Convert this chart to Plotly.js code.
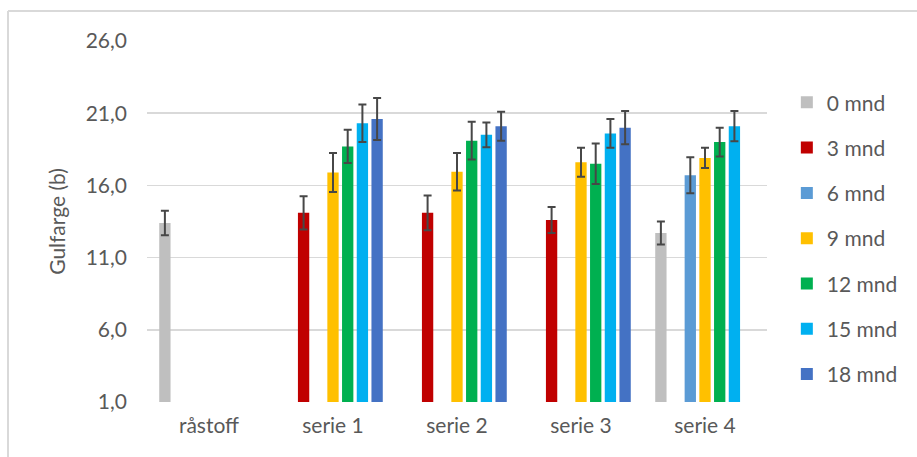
<!DOCTYPE html>
<html>
<head>
<meta charset="utf-8">
<script src="https://cdn.plot.ly/plotly-3.0.1.min.js"></script>
<style>html,body{margin:0;padding:0;background:#fff;}#chart{width:917px;height:457px;}</style>
</head>
<body>
<div id="chart"></div>
<script>
const categories = ['råstoff', 'serie 1', 'serie 2', 'serie 3', 'serie 4'];
const seriesNames = ['0 mnd', '3 mnd', '6 mnd', '9 mnd', '12 mnd', '15 mnd', '18 mnd'];
const seriesColors = ['#BFBFBF', '#C00000', '#5B9BD5', '#FFC000', '#00B050', '#00B0F0', '#4472C4'];

const m0  = [13.4, null, null, null, 12.7];
const m3  = [null, 14.1, 14.1, 13.6, null];
const m6  = [null, null, null, null, 16.7];
const m9  = [null, 16.9, 16.95, 17.6, 17.9];
const m12 = [null, 18.7, 19.1, 17.5, 19.0];
const m15 = [null, 20.3, 19.5, 19.6, 20.1];
const m18 = [null, 20.6, 20.1, 20.0, null];

const e0  = [0.85, 0, 0, 0, 0.8];
const e3  = [0, 1.15, 1.2, 0.9, 0];
const e6  = [0, 0, 0, 0, 1.25];
const e9  = [0, 1.35, 1.3, 1.0, 0.7];
const e12 = [0, 1.15, 1.3, 1.4, 1.0];
const e15 = [0, 1.3, 0.85, 1.0, 1.05];
const e18 = [0, 1.45, 1.0, 1.15, 0];

const values = [m0, m3, m6, m9, m12, m15, m18];
const errors = [e0, e3, e6, e9, e12, e15, e18];

const FONT = 'Lato, "Open Sans", "Liberation Sans", sans-serif';

const traces = seriesNames.map((name, i) => ({
  type: 'bar',
  name: name,
  x: categories,
  y: values[i],
  legendgroup: 'g' + i,
  marker: {color: seriesColors[i], line: {width: 0}},
  error_y: {type: 'data', array: errors[i], visible: true, color: '#474747', thickness: 2, width: 4},
  hoverinfo: 'x+y+name'
}));

const layout = {
  width: 917,
  height: 457,
  margin: {l: 147, r: 150, t: 41, b: 55, pad: 0},
  paper_bgcolor: '#ffffff',
  plot_bgcolor: '#ffffff',
  separators: ', ',
  barmode: 'group',
  bargap: 0.17,
  bargroupgap: 0.23,
  font: {family: FONT, color: '#595959', size: 21},
  xaxis: {
    type: 'category',
    showgrid: false,
    showline: false,
    zeroline: false,
    ticks: '',
    tickfont: {family: FONT, size: 21, color: '#595959'},
    ticklabelstandoff: 9
  },
  yaxis: {
    range: [1, 26],
    tick0: 1,
    dtick: 5,
    tickformat: '.1f',
    showgrid: true,
    gridcolor: '#D9D9D9',
    gridwidth: 1.5,
    zeroline: false,
    showline: false,
    ticks: '',
    ticklabelstandoff: 19,
    tickfont: {family: FONT, size: 21, color: '#595959'},
    title: {text: 'Gulfarge (b)', font: {family: FONT, size: 21, color: '#595959'}, standoff: 14}
  },
  legend: {
    x: 1.032,
    xanchor: 'left',
    y: 0.886,
    yanchor: 'top',
    font: {family: FONT, size: 21, color: '#595959'},
    tracegroupgap: 15,
    bgcolor: 'rgba(0,0,0,0)',
    itemclick: false
  },
  showlegend: true,
  shapes: [
    {type: 'line', xref: 'paper', yref: 'paper', x0: -0.2242, x1: 1.25, y0: 1.0831, y1: 1.0831, line: {color: '#D9D9D9', width: 2}},
    {type: 'line', xref: 'paper', yref: 'paper', x0: -0.2242, x1: -0.2242, y0: 1.0831, y1: -0.16, line: {color: '#D9D9D9', width: 2}}
  ]
};

Plotly.newPlot('chart', traces, layout, {displayModeBar: false, staticPlot: true});
</script>
</body>
</html>
